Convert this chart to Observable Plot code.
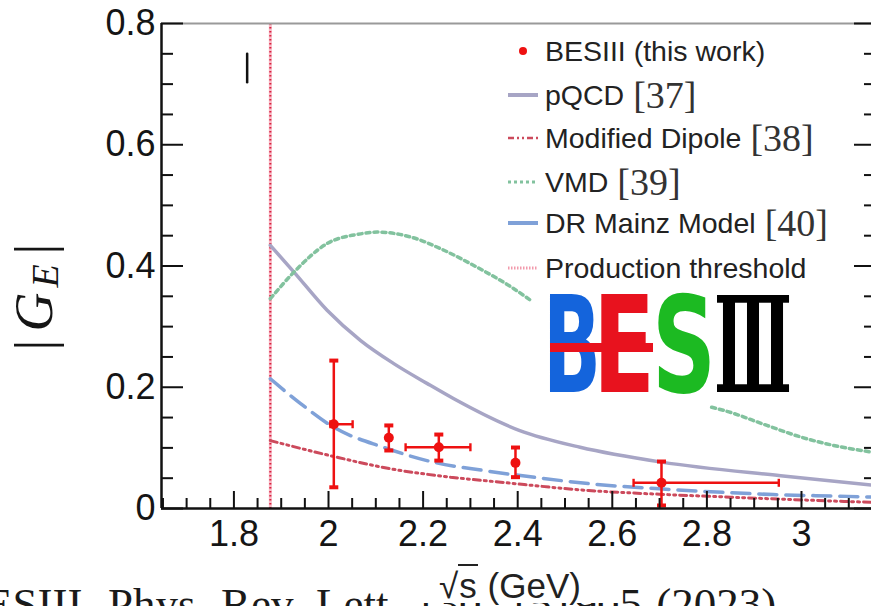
<!DOCTYPE html>
<html>
<head>
<meta charset="utf-8">
<script src="https://cdn.jsdelivr.net/npm/d3@7"></script>
<script src="https://cdn.jsdelivr.net/npm/@observablehq/plot@0.6"></script>
<style>
  html, body { margin:0; padding:0; background:#fff; }
  #wrap { position:relative; width:871px; height:606px; overflow:hidden; background:#fff; }
  #caption { position:absolute; left:-45px; top:582px; font-family:"Liberation Serif", serif; font-size:45px; line-height:1; white-space:nowrap; word-spacing:3px; color:#1a1a1a; z-index:0; }
  #chart { position:absolute; left:0; top:0; z-index:1; }
  #chart svg { background: transparent; }
  #xlabel { position:absolute; left:400px; top:567px; width:220px; height:36px; background:#fff; z-index:2; text-align:center; font-family:"Liberation Sans", Arial, sans-serif; font-size:35px; line-height:38px; color:#222; }
  #xlabel .s { border-top:2px solid #222; padding:0 1px; }
  #legend { position:absolute; left:0; top:0; z-index:3; font-family:"Liberation Sans", Arial, sans-serif; font-size:28.5px; color:#222; }
  .row { position:absolute; left:505px; height:34px; display:flex; align-items:center; white-space:nowrap; }
  .row svg { width:36px; height:34px; margin-right:4px; flex:none; }
  .ref { font-family:"Liberation Serif", serif; font-size:38px; margin-left:9px; color:#333; }
</style>
</head>
<body>
<div id="wrap">
  <div id="caption"></div>
  <div id="chart"></div>
  <div id="xlabel">√<span class="s">s</span> (GeV)</div>
  <div id="legend"></div>
</div>
<script>
// ---------------- data ----------------
const threshold = 1.877;

// BESIII points
const sqrtS     = [2.0112, 2.1275, 2.2332, 2.3953, 2.7040];
const geValue   = [0.139, 0.1166, 0.101, 0.0753, 0.0424];
const geLow     = [0.035, 0.0957, 0.079, 0.0517, 0.005];
const geHigh    = [0.244, 0.137, 0.122, 0.1006, 0.0775];
const sqrtSLow  = [2.004, null, 2.163, null, 2.645];
const sqrtSHigh = [2.051, null, 2.300, null, 2.952];

// pQCD [37]
const pqcdS  = [1.877, 1.927, 1.997, 2.068, 2.138, 2.209, 2.265, 2.403, 2.532, 2.704, 2.956, 3.158];
const pqcdGE = [0.434, 0.390, 0.327, 0.277, 0.239, 0.206, 0.181, 0.129, 0.101, 0.0765, 0.054, 0.038];

// Modified Dipole [38]
const dipoleS  = [1.877, 2.011, 2.131, 2.258, 2.364, 2.55, 2.70, 2.85, 3.097, 3.158];
const dipoleGE = [0.112, 0.0858, 0.0655, 0.0517, 0.0434, 0.0297, 0.0235, 0.0187, 0.0115, 0.010];

// VMD [39] (hidden behind the logo between 2.43 and 2.81)
const vmdS  = [1.877, 1.927, 1.997, 2.068, 2.103, 2.173, 2.244, 2.314, 2.385, 2.43, 2.6, 2.81, 2.835, 2.927, 2.998, 3.068, 3.158];
const vmdGE = [0.346, 0.390, 0.437, 0.453, 0.456, 0.448, 0.426, 0.398, 0.366, 0.342, null, 0.167, 0.162, 0.137, 0.118, 0.104, 0.092];

// DR Mainz Model [40]
const mainzS  = [1.877, 1.941, 2.011, 2.116, 2.222, 2.328, 2.45, 2.55, 2.70, 2.85, 2.94, 3.097, 3.158];
const mainzGE = [0.214, 0.173, 0.134, 0.101, 0.0764, 0.0627, 0.050, 0.041, 0.0325, 0.026, 0.023, 0.020, 0.0187];

// stray mark near the top-left of the frame
const strayS = [1.828], strayLow = [0.703], strayHigh = [0.750];

// ticks
const xTickValues = [1.8, 2, 2.2, 2.4, 2.6, 2.8, 3];
const xTickLabels = ["1.8", "2", "2.2", "2.4", "2.6", "2.8", "3"];
const yTickValues = [0, 0.2, 0.4, 0.6, 0.8];
const yTickLabels = ["0", "0.2", "0.4", "0.6", "0.8"];

// legend
const legendLabels = ["BESIII (this work)", "pQCD", "Modified Dipole", "VMD", "DR Mainz Model", "Production threshold"];
const legendRefs   = ["", "[37]", "[38]", "[39]", "[40]", ""];

const captionText = "BESIII, Phys. Rev. Lett. 130, 151905 (2023)";

// ---------------- build ----------------
const xDomain = [1.6469, 3.1586];
const yDomain = [0, 0.8];
const frameW = 876 - 161, frameH = 508 - 23;

const points = sqrtS.map((s, i) => ({s, v: geValue[i], lo: geLow[i], hi: geHigh[i], sl: sqrtSLow[i], sh: sqrtSHigh[i]}));
const xPoints = points.filter(d => d.sl != null);
const curve = (S, G) => S.map((s, i) => ({s, g: G[i]}));
const pqcd = curve(pqcdS, pqcdGE), dipole = curve(dipoleS, dipoleGE), vmd = curve(vmdS, vmdGE), mainz = curve(mainzS, mainzGE);
const stray = strayS.map((s, i) => ({s, lo: strayLow[i], hi: strayHigh[i]}));

const isMajor = v => Math.abs(v * 5 - Math.round(v * 5)) < 1e-6;
const xMinor = d3.range(33, 64).map(i => +(i * 0.05).toFixed(2)).filter(v => !isMajor(v));
const yMinor = d3.range(0, 17).map(i => +(i * 0.05).toFixed(2)).filter(v => !isMajor(v));

const capH = {draw(ctx) { ctx.rect(-4.5, -2, 9, 4); }};
const capV = {draw(ctx) { ctx.rect(-1.2, -4, 2.4, 8); }};

const RED = "#ee1111";
const INK = "#111";

const yTick = (vals, len, side) => Plot.ruleY(vals, {
  y: d => d, x1: xDomain[0], x2: xDomain[1], stroke: INK, strokeWidth: 2,
  insetRight: side === "left" ? frameW - len : 0,
  insetLeft: side === "right" ? frameW - len : 0
});

const svg = Plot.plot({
  width: 871,
  height: 606,
  marginLeft: 161, marginRight: 0, marginTop: 23, marginBottom: 98,
  x: {domain: xDomain, range: [161, 876], axis: null},
  y: {domain: yDomain, range: [508, 23], axis: null},
  style: {background: "transparent", overflow: "visible"},
  marks: [
    // threshold
    Plot.ruleX([threshold], {stroke: "#f8b8c4", strokeWidth: 3}),
    Plot.ruleX([threshold], {stroke: "#d8203f", strokeWidth: 2, strokeDasharray: "1.5,2.5"}),
    // curves
    Plot.line(pqcd, {x: "s", y: "g", stroke: "#a7a5c5", strokeWidth: 3.5, curve: "monotone-x"}),
    Plot.line(vmd, {x: "s", y: "g", stroke: "#82c29e", strokeWidth: 3.5, strokeDasharray: "4,4", curve: "monotone-x"}),
    Plot.line(dipole, {x: "s", y: "g", stroke: "#cc4a5c", strokeWidth: 3, strokeDasharray: "7,4,2,4,2,4", curve: "monotone-x"}),
    Plot.line(mainz, {x: "s", y: "g", stroke: "#7fa1d8", strokeWidth: 3.5, strokeDasharray: "18,9", curve: "monotone-x"}),
    // stray mark
    Plot.link(stray, {x1: "s", x2: "s", y1: "lo", y2: "hi", stroke: INK, strokeWidth: 2.5, strokeLinecap: "round"}),
    // BESIII error bars
    Plot.link(points, {x1: "s", x2: "s", y1: "lo", y2: "hi", stroke: RED, strokeWidth: 2.5}),
    Plot.link(xPoints, {x1: "sl", x2: "sh", y1: "v", y2: "v", stroke: RED, strokeWidth: 2.5}),
    Plot.dot(points, {x: "s", y: "hi", symbol: capH, fill: RED, stroke: "none"}),
    Plot.dot(points, {x: "s", y: "lo", symbol: capH, fill: RED, stroke: "none"}),
    Plot.dot(xPoints, {x: "sl", y: "v", symbol: capV, fill: RED, stroke: "none"}),
    Plot.dot(xPoints, {x: "sh", y: "v", symbol: capV, fill: RED, stroke: "none"}),
    Plot.dot(points, {x: "s", y: "v", r: 5, fill: RED, stroke: "none"}),
    // frame
    Plot.ruleY([yDomain[1]], {stroke: "#9a9a9a", strokeWidth: 2}),
    Plot.ruleX([xDomain[0]], {stroke: INK, strokeWidth: 2.5}),
    Plot.ruleY([yDomain[0]], {stroke: INK, strokeWidth: 2.5}),
    // ticks (pointing inward)
    Plot.ruleX(xTickValues, {x: d => d, stroke: INK, strokeWidth: 2, insetTop: frameH - 17}),
    Plot.ruleX(xMinor, {x: d => d, stroke: INK, strokeWidth: 2, insetTop: frameH - 10}),
    yTick(yTickValues, 22, "left"),
    yTick(yMinor, 12, "left"),
    yTick(yTickValues, 22, "right"),
    yTick(yMinor, 12, "right"),
    // tick labels
    Plot.text(xTickValues, {x: d => d, y: yDomain[0], text: (d, i) => xTickLabels[i], dy: 26, lineAnchor: "middle",
      fontFamily: "Liberation Sans, Arial, sans-serif", fontSize: 36, fill: "#151515"}),
    Plot.text(yTickValues, {x: xDomain[0], y: d => d, text: (d, i) => yTickLabels[i], dx: -6, textAnchor: "end", lineAnchor: "middle",
      fontFamily: "Liberation Sans, Arial, sans-serif", fontSize: 36, fill: "#151515"})
  ]
});

const root = d3.select(svg);

// y-axis label |G_E|
const yl = root.append("text")
  .attr("transform", "translate(52,297) rotate(-90)")
  .attr("text-anchor", "middle")
  .attr("font-family", "Liberation Serif, serif")
  .attr("font-size", 54)
  .attr("fill", "#151515");
yl.append("tspan").text("|");
yl.append("tspan").attr("dx", 8).attr("font-style", "italic").text("G");
yl.append("tspan").attr("dx", 5).attr("dy", 6).attr("font-size", 38).attr("font-style", "italic").text("E");
yl.append("tspan").attr("dx", 10).attr("dy", -6).text("|");

// BESIII logo
const logo = root.append("g").attr("font-weight", "bold").attr("font-size", 133).attr("text-anchor", "start");
[["B", 543, 58, "#1464dc", "DejaVu Sans"], ["E", 593, 62, "#e8121e", "DejaVu Sans"], ["S", 652, 64, "#1cba22", "DejaVu Sans"], ["Ⅲ", 714, 78, "#000", "DejaVu Serif"]].forEach(([t, x, w, c, f]) => {
  logo.append("text").attr("x", x).attr("y", 392).attr("font-family", f + ", sans-serif")
    .attr("textLength", w).attr("lengthAdjust", "spacingAndGlyphs").attr("fill", c).text(t);
});
logo.append("rect").attr("x", 550).attr("y", 343).attr("width", 103).attr("height", 9).attr("fill", "#e8121e");

document.getElementById("chart").appendChild(svg);
document.getElementById("caption").textContent = captionText;

// legend
const rowTops = [34, 78, 121, 165, 206, 251];
const swatches = [
  '<circle cx="18" cy="17" r="4" fill="' + RED + '"/>',
  '<line x1="3" x2="33" y1="17" y2="17" stroke="#a7a5c5" stroke-width="4"/>',
  '<line x1="3" x2="33" y1="17" y2="17" stroke="#cc4a5c" stroke-width="2.5" stroke-dasharray="6,3,2,3,2,3"/>',
  '<line x1="3" x2="33" y1="17" y2="17" stroke="#82c29e" stroke-width="3" stroke-dasharray="3,3"/>',
  '<line x1="3" x2="33" y1="17" y2="17" stroke="#7fa1d8" stroke-width="4"/>',
  '<line x1="3" x2="33" y1="17" y2="17" stroke="#f29aac" stroke-width="3" stroke-dasharray="1.5,1.5"/>'
];
const legend = document.getElementById("legend");
legendLabels.forEach((label, i) => {
  const row = document.createElement("div");
  row.className = "row";
  row.style.top = rowTops[i] + "px";
  row.innerHTML = '<svg viewBox="0 0 36 34">' + swatches[i] + '</svg><span>' + label + '</span>' +
    (legendRefs[i] ? '<span class="ref">' + legendRefs[i] + '</span>' : '');
  legend.appendChild(row);
});
</script>
</body>
</html>
